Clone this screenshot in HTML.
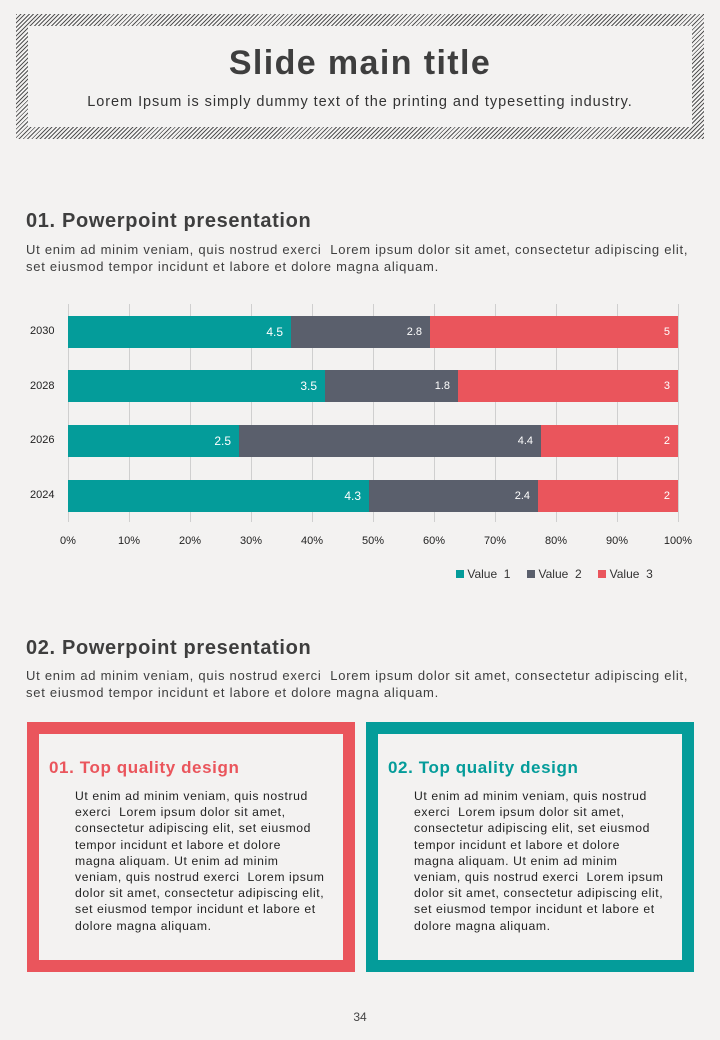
<!DOCTYPE html>
<html><head><meta charset="utf-8"><style>
*{margin:0;padding:0;box-sizing:border-box}
body{width:720px;height:1040px;background:#f3f2f1;position:relative;overflow:hidden;font-family:"Liberation Sans","DejaVu Sans",sans-serif;color:#3d3d3d}
.a{position:absolute}
.hatch{left:16px;top:14px;width:688px;height:125px;background:repeating-linear-gradient(135deg,#555 0 1px,transparent 1px 3px)}
.inner{left:28px;top:26px;width:664px;height:101px;background:#f3f2f1}
.t{font-weight:bold;font-size:34px;left:0;width:720px;text-align:center;top:44px;color:#3e3e3e;letter-spacing:1.4px}
.st{font-size:14.5px;left:0;width:720px;text-align:center;top:94px;color:#333;letter-spacing:0.95px}
.h{font-weight:bold;font-size:20px;left:26px;color:#3e3e3e;letter-spacing:0.65px}
.p{font-size:13px;left:26px;width:700px;line-height:17px;color:#3e3e3e;white-space:nowrap;letter-spacing:0.74px}
.g{width:1px;background:#cfcfcf;top:304px;height:218px}
.bar{height:32px;color:#fff;font-size:11px;line-height:32px;text-align:right;padding-right:8px}
.tl{font-size:11px;top:535px;width:40px;text-align:center;color:#222}
.yl{font-size:11px;left:30px;color:#222}
.card{top:722px;width:328px;height:250px;border:12px solid}
.ct{font-weight:bold;font-size:17px;position:absolute;left:10px;top:24px;letter-spacing:0.6px}
.cp{position:absolute;left:36px;top:54px;font-size:12.2px;line-height:16.2px;color:#222;white-space:nowrap;letter-spacing:0.6px}
</style></head><body>
<div class="a hatch"></div><div class="a inner"></div>
<div class="a t">Slide main title</div>
<div class="a st">Lorem Ipsum is simply dummy text of the printing and typesetting industry.</div>
<div class="a h" style="top:210px">01. Powerpoint presentation</div>
<div class="a p" style="top:241px">Ut enim ad minim veniam, quis nostrud exerci&nbsp; Lorem ipsum dolor sit amet, consectetur adipiscing elit,<br>set eiusmod tempor incidunt et labore et dolore magna aliquam.</div>

<div class="a g" style="left:68px"></div><div class="a g" style="left:129px"></div><div class="a g" style="left:190px"></div><div class="a g" style="left:251px"></div><div class="a g" style="left:312px"></div><div class="a g" style="left:373px"></div><div class="a g" style="left:434px"></div><div class="a g" style="left:495px"></div><div class="a g" style="left:556px"></div><div class="a g" style="left:617px"></div><div class="a g" style="left:678px"></div>

<div class="a bar" style="top:316px;left:68px;width:223px;background:#049c9a;font-size:12px">4.5</div>
<div class="a bar" style="top:316px;left:291px;width:139px;background:#5a5f6c">2.8</div>
<div class="a bar" style="top:316px;left:430px;width:248px;background:#ea555c">5</div>
<div class="a bar" style="top:370px;left:68px;width:257px;background:#049c9a;font-size:12px">3.5</div>
<div class="a bar" style="top:370px;left:325px;width:133px;background:#5a5f6c">1.8</div>
<div class="a bar" style="top:370px;left:458px;width:220px;background:#ea555c">3</div>
<div class="a bar" style="top:425px;left:68px;width:171px;background:#049c9a;font-size:12px">2.5</div>
<div class="a bar" style="top:425px;left:239px;width:302px;background:#5a5f6c">4.4</div>
<div class="a bar" style="top:425px;left:541px;width:137px;background:#ea555c">2</div>
<div class="a bar" style="top:480px;left:68px;width:301px;background:#049c9a;font-size:12px">4.3</div>
<div class="a bar" style="top:480px;left:369px;width:169px;background:#5a5f6c">2.4</div>
<div class="a bar" style="top:480px;left:538px;width:140px;background:#ea555c">2</div>

<div class="a yl" style="top:325px">2030</div><div class="a yl" style="top:380px">2028</div><div class="a yl" style="top:434px">2026</div><div class="a yl" style="top:489px">2024</div>
<div class="a tl" style="left:48px">0%</div><div class="a tl" style="left:109px">10%</div><div class="a tl" style="left:170px">20%</div><div class="a tl" style="left:231px">30%</div><div class="a tl" style="left:292px">40%</div><div class="a tl" style="left:353px">50%</div><div class="a tl" style="left:414px">60%</div><div class="a tl" style="left:475px">70%</div><div class="a tl" style="left:536px">80%</div><div class="a tl" style="left:597px">90%</div><div class="a tl" style="left:658px">100%</div>

<div class="a" style="top:567px;left:456px;font-size:12px;color:#333;white-space:nowrap">
<span style="display:inline-block;width:8px;height:8px;background:#049c9a"></span> Value&nbsp; 1 &nbsp;&nbsp;&nbsp;
<span style="display:inline-block;width:8px;height:8px;background:#5a5f6c"></span> Value&nbsp; 2 &nbsp;&nbsp;&nbsp;
<span style="display:inline-block;width:8px;height:8px;background:#ea555c"></span> Value&nbsp; 3</div>

<div class="a h" style="top:637px">02. Powerpoint presentation</div>
<div class="a p" style="top:667px">Ut enim ad minim veniam, quis nostrud exerci&nbsp; Lorem ipsum dolor sit amet, consectetur adipiscing elit,<br>set eiusmod tempor incidunt et labore et dolore magna aliquam.</div>

<div class="a card" style="left:27px;border-color:#ea555c"><div class="ct" style="color:#ea555c">01. Top quality design</div><div class="cp">Ut enim ad minim veniam, quis nostrud<br>exerci&nbsp; Lorem ipsum dolor sit amet,<br>consectetur adipiscing elit, set eiusmod<br>tempor incidunt et labore et dolore<br>magna aliquam. Ut enim ad minim<br>veniam, quis nostrud exerci&nbsp; Lorem ipsum<br>dolor sit amet, consectetur adipiscing elit,<br>set eiusmod tempor incidunt et labore et<br>dolore magna aliquam.</div></div>
<div class="a card" style="left:366px;border-color:#049c9a"><div class="ct" style="color:#049c9a">02. Top quality design</div><div class="cp">Ut enim ad minim veniam, quis nostrud<br>exerci&nbsp; Lorem ipsum dolor sit amet,<br>consectetur adipiscing elit, set eiusmod<br>tempor incidunt et labore et dolore<br>magna aliquam. Ut enim ad minim<br>veniam, quis nostrud exerci&nbsp; Lorem ipsum<br>dolor sit amet, consectetur adipiscing elit,<br>set eiusmod tempor incidunt et labore et<br>dolore magna aliquam.</div></div>

<div class="a" style="top:1010px;left:0;width:720px;text-align:center;font-size:12px;color:#444">34</div>
</body></html>
